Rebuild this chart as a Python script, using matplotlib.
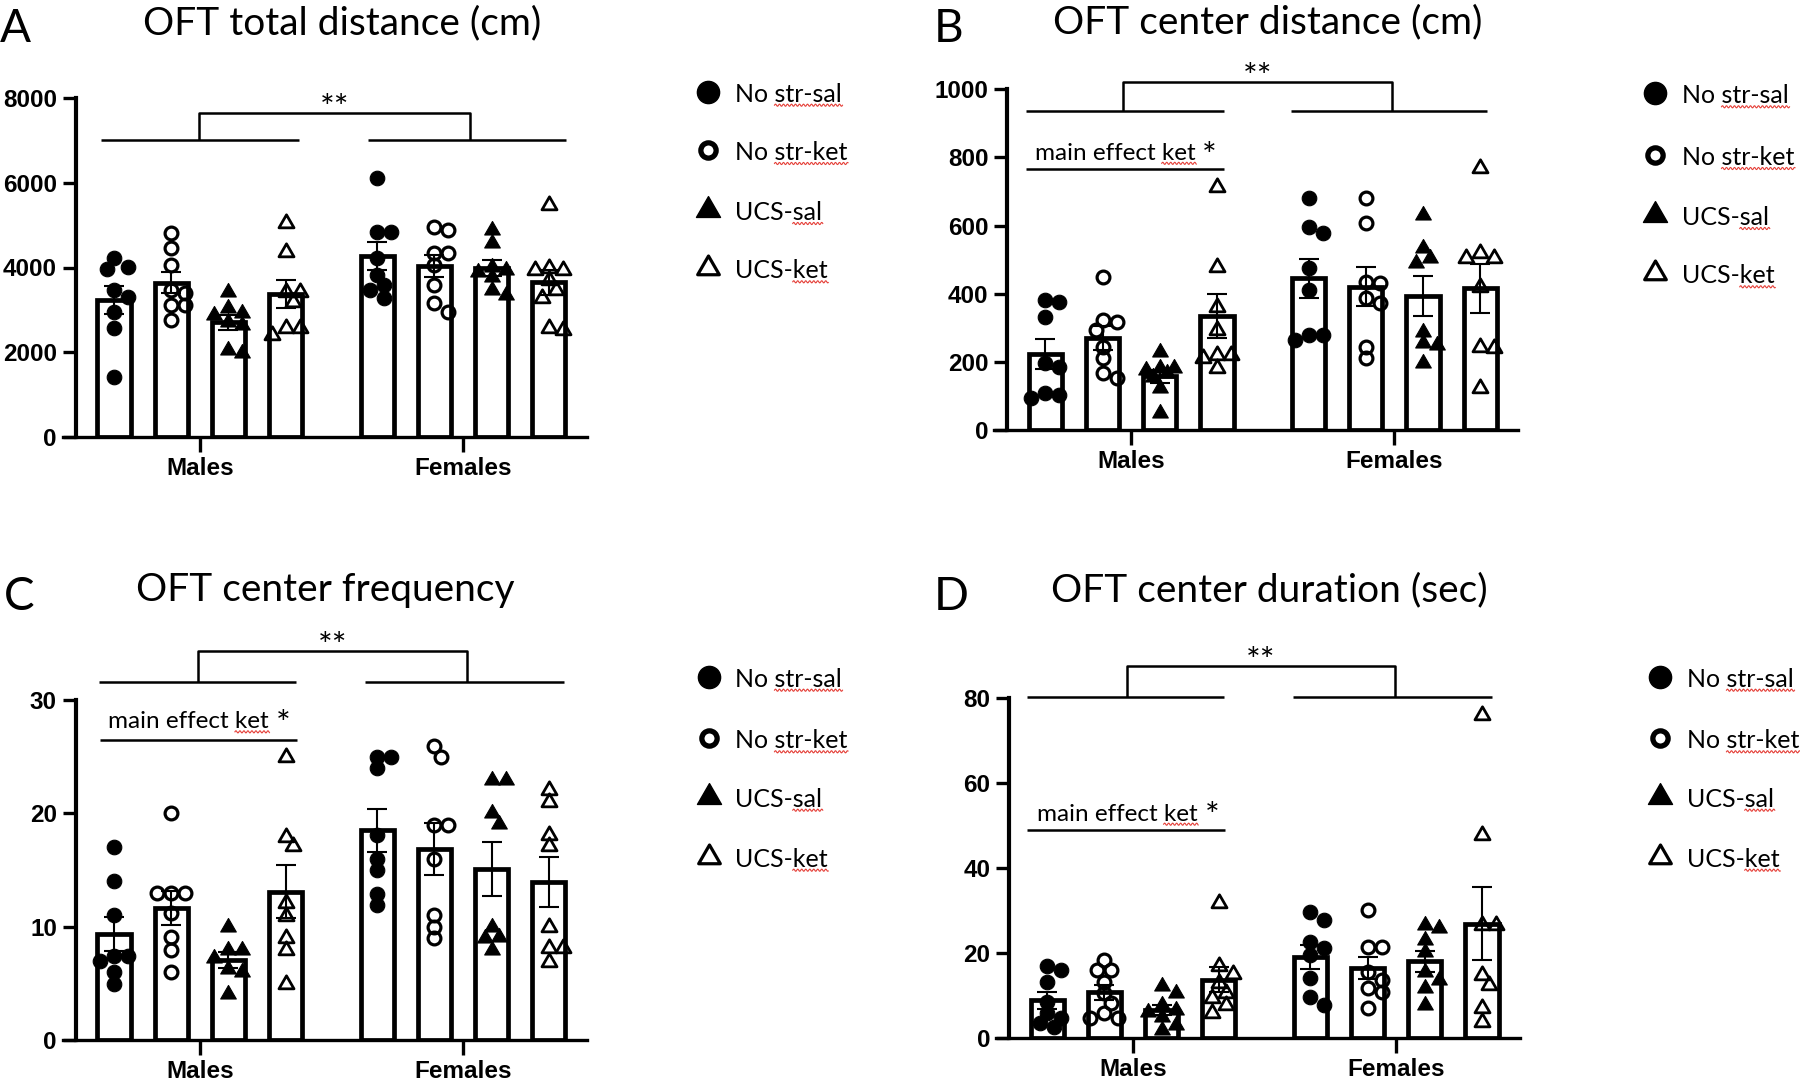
import numpy as np
import matplotlib
matplotlib.use("Agg")
import matplotlib.pyplot as plt
from matplotlib.path import Path
from matplotlib.lines import Line2D

W, H = 1800, 1082

group_labels = ["No str-sal", "No str-ket", "UCS-sal", "UCS-ket"]
sex_labels = ["Males", "Females"]

# individual animals, order: No str-sal, No str-ket, UCS-sal, UCS-ket
total_dist_m = [[4217, 3957, 4020, 3468, 3310, 2956, 2562, 1419],
                [4808, 4453, 4059, 3468, 3389, 3113, 3113, 2759],
                [3429, 2916, 2877, 3035, 2719, 2640, 2049, 1970],
                [5044, 4375, 3429, 3429, 3192, 2562, 2562, 2404]]
total_dist_f = [[6109, 4847, 4847, 4217, 3823, 3586, 3468, 3271],
                [4966, 4887, 4335, 4335, 4059, 3586, 3153, 2956],
                [4887, 4572, 4020, 3941, 3902, 3783, 3468, 3350],
                [5478, 3980, 3941, 3941, 3705, 3468, 3271, 2562, 2522]]

center_dist_m = [[333, 382, 377, 196, 186, 108, 103, 93],
                 [448, 318, 323, 294, 245, 210, 166, 152],
                 [230, 181, 181, 166, 157, 176, 122, 49],
                 [714, 479, 362, 294, 220, 220, 210, 181]]
center_dist_f = [[680, 577, 597, 475, 411, 279, 279, 264],
                 [680, 609, 435, 431, 386, 372, 245, 210],
                 [631, 489, 504, 533, 289, 250, 254, 196],
                 [768, 504, 504, 519, 421, 245, 240, 122]]

center_freq_m = [[17.0, 14.0, 11.0, 7.4, 7.4, 7.0, 6.0, 4.9],
                 [20.0, 13.0, 13.0, 13.0, 11.2, 9.1, 7.9, 6.0],
                 [10.0, 7.9, 7.9, 7.2, 6.3, 6.0, 4.1],
                 [25.0, 17.1, 17.9, 12.1, 10.9, 9.0, 7.9, 4.9]]
center_freq_f = [[24.0, 25.0, 25.0, 18.1, 16.0, 15.0, 12.9, 11.9],
                 [25.9, 25.0, 19.0, 19.0, 16.0, 11.0, 10.0, 9.0],
                 [22.9, 22.9, 20.0, 19.1, 10.0, 9.1, 9.0, 7.9],
                 [22.1, 21.0, 18.1, 17.1, 10.0, 8.1, 8.1, 6.9]]

center_dur_m = [[16.9, 16.1, 13.3, 8.6, 5.9, 4.7, 3.5, 2.7],
                [18.4, 16.1, 16.1, 13.3, 10.6, 8.2, 5.9, 4.7, 4.7],
                [12.2, 10.6, 7.8, 6.7, 6.3, 5.1, 3.1, 2.0],
                [31.8, 16.9, 15.2, 13.0, 10.6, 9.4, 7.8, 5.9]]
center_dur_f = [[29.8, 27.8, 22.7, 21.2, 19.6, 14.1, 9.8, 7.8],
                [30.2, 21.6, 21.6, 15.7, 13.7, 11.8, 11.0, 7.1],
                [26.7, 25.9, 23.1, 20.4, 15.7, 13.7, 11.8, 7.8],
                [76.1, 47.8, 26.7, 26.7, 14.9, 12.5, 7.1, 3.9]]

# ---- styling / layout ----
tri = Path([(0, 1.155), (-1, -0.577), (1, -0.577), (0, 1.155)],
           [Path.MOVETO, Path.LINETO, Path.LINETO, Path.CLOSEPOLY])

dot_style = [dict(marker="o", mfc="k", mec="k", ms=10.5, mew=0.8),
             dict(marker="o", mfc="none", mec="k", ms=9.2, mew=2.3),
             dict(marker=tri, mfc="k", mec="k", ms=13, mew=0.8),
             dict(marker=tri, mfc="none", mec="k", ms=12.5, mew=2.0)]
key_style = [dict(marker="o", mfc="k", mec="k", ms=16),
             dict(marker="o", mfc="none", mec="k", ms=11, mew=3.8),
             dict(marker=tri, mfc="k", mec="k", ms=20),
             dict(marker=tri, mfc="none", mec="k", ms=18, mew=2.3)]

TXT = "Lato"
TICK = "Liberation Sans"
PPU = 57.2                    # pixels per bar slot
XL, XR, YAX = -0.9, 8.27, -0.67
pos_m = np.arange(4)
pos_f = np.arange(4) + 4.6

fig = plt.figure(figsize=(W / 100, H / 100), dpi=100)
ov = fig.add_axes([0, 0, 1, 1])
ov.set_xlim(0, W)
ov.set_ylim(H, 0)
ov.axis("off")

squiggles = []


def swarm(ax, xc, vals, diam):
    # spread points sideways a little where they would overlap
    pts = ax.transData.transform(np.column_stack([np.full(len(vals), xc), vals]))
    placed = []
    xs = np.zeros(len(vals))
    step = diam * 0.5
    for i in np.argsort(-np.asarray(vals), kind="stable"):
        px, py = pts[i]
        best, best_d = px, -1
        for k in [0, 1, -1, 2, -2]:
            cx = px + k * step
            d = min([np.hypot(cx - qx, py - qy) for qx, qy in placed] or [1e9])
            if d >= diam * 0.8:
                best = cx
                break
            if d > best_d + 1:
                best, best_d = cx, d
        placed.append((best, py))
        xs[i] = best
    inv = ax.transData.inverted()
    return [inv.transform((x, 0))[0] for x in xs]


def draw_panel(males, females, x0, y0, ytop, ymax, ystep, ann, main=None):
    left = x0 + XL * PPU
    ax = fig.add_axes([left / W, 1 - y0 / H, (XR - XL) * PPU / W, (y0 - ytop) / H])
    ax.set_xlim(XL, XR)
    ax.set_ylim(0, ymax)
    ax.patch.set_alpha(0)
    for s in ("top", "right"):
        ax.spines[s].set_visible(False)
    ax.spines["left"].set_position(("data", YAX))
    ax.spines["left"].set_linewidth(3.0)
    ax.spines["bottom"].set_linewidth(2.4)
    ax.set_yticks(np.arange(0, ymax + ystep / 2, ystep))
    ax.set_xticks([1.5, 6.1], sex_labels)
    ax.tick_params(axis="y", length=9.5, width=2.4, pad=4, labelsize=17.5)
    ax.tick_params(axis="x", length=11, width=2.4, pad=3.5, labelsize=17.5)
    for lab in ax.get_xticklabels() + ax.get_yticklabels():
        lab.set_fontfamily(TICK)
        lab.set_fontweight("bold")

    for pos, grp in ((pos_m, males), (pos_f, females)):
        for p, vals, st in zip(pos, grp, dot_style):
            v = np.asarray(vals, float)
            mean = v.mean()
            sem = v.std(ddof=1) / np.sqrt(len(v))
            ax.bar(p, mean, width=0.58, color="white", edgecolor="k", lw=3.4, zorder=2)
            ax.errorbar(p, mean, yerr=sem, fmt="none", ecolor="k", elinewidth=1.5,
                        capsize=7, capthick=1.5, zorder=3)
            ax.plot(swarm(ax, p, v, 14), v, ls="none", zorder=4, clip_on=False, **st)

    ly, ty, (m0, m1), (f0, f1), (v0, v1) = ann
    kw = dict(color="k", lw=1.8, clip_on=False, solid_capstyle="butt")
    ax.plot([m0, m1], [ly, ly], **kw)
    ax.plot([f0, f1], [ly, ly], **kw)
    ax.plot([v0, v0, v1, v1], [ly, ty, ty, ly], **kw)
    ax.annotate("**", ((v0 + v1) / 2, ty), xytext=(0, -4), textcoords="offset points",
                ha="center", va="baseline", fontsize=25, family=TXT,
                annotation_clip=False)
    if main:
        my, tb, (s0, s1), tx, (sx, sy) = main
        ax.plot([s0, s1], [my, my], **kw)
        t = ax.text(tx, tb, "main effect ket", ha="center", va="baseline",
                    fontsize=17.5, family=TXT, clip_on=False)
        ax.annotate("*", (sx, sy), xytext=(0, -15.5), textcoords="offset points",
                    ha="center", va="baseline", fontsize=25, family=TXT,
                    annotation_clip=False)
        squiggles.append((t, "ket"))
    return ax


def legend(mx, tx, rows):
    for y, lab, st in zip(rows, group_labels, key_style):
        ov.plot([mx], [y], ls="none", **st)
        t = ov.text(tx, y + 10, lab, ha="left", va="baseline", fontsize=18, family=TXT)
        word = lab.split("-", 1)[1] if lab.startswith("UCS") else lab.split(" ")[-1]
        squiggles.append((t, word))


def heading(letter, lx, ly, title, cx, by):
    ov.text(lx, ly, letter, ha="left", va="baseline", fontsize=33, family=TXT)
    ov.text(cx, by, title, ha="center", va="baseline", fontsize=28, family=TXT)


# A
draw_panel(total_dist_m, total_dist_f, 114, 436.7, 98.3, 8000, 2000,
           (7009, 7646, (-0.22, 3.23), (4.44, 7.91), (1.49, 6.23)))
heading("A", 0, 41.5, "OFT total distance (cm)", 342.5, 34.5)
legend(708, 735, [91.7, 150, 210, 268.3])

# B
draw_panel(center_dist_m, center_dist_f, 1045.4, 430, 89.3, 1000, 200,
           (936, 1020, (-0.34, 3.12), (4.3, 7.72), (1.36, 6.06)),
           (766, 793, (-0.34, 3.12), 1.22, (2.87, 836)))
heading("B", 934, 41.5, "OFT center distance (cm)", 1267.4, 33.5)
legend(1655, 1682, [93.3, 155, 215, 273.3])

# C
draw_panel(center_freq_m, center_freq_f, 114, 1040, 700, 30, 10,
           (31.6, 34.3, (-0.26, 3.19), (4.39, 7.87), (1.46, 6.18)),
           (26.5, 27.5, (-0.25, 3.2), 1.3, (2.96, 28.8)))
heading("C", 4, 610, "OFT center frequency", 325.3, 601.5)
legend(709, 735, [676.7, 738.3, 796.7, 856.7])

# D
draw_panel(center_dur_m, center_dur_f, 1047.3, 1038.3, 698.3, 80, 20,
           (80.4, 87.5, (-0.36, 3.09), (4.3, 7.77), (1.39, 6.08)),
           (49.1, 51.2, (-0.36, 3.11), 1.22, (2.88, 54.9)))
heading("D", 934, 610, "OFT center duration (sec)", 1269.3, 601.5)
legend(1660, 1687, [676.7, 738.3, 796.7, 856.7])

# red spell-check squiggles under the flagged words
fig.canvas.draw()
renderer = fig.canvas.get_renderer()
for t, word in squiggles:
    bb = t.get_window_extent(renderer)
    w, _, _ = renderer.get_text_width_height_descent(word, t.get_fontproperties(), ismath=False)
    base = t.get_transform().transform(t.get_position())[1]
    xs = np.arange(bb.x1 - w, bb.x1 + 1, 0.5)
    ys = base - 3.5 + 1.1 * np.sin((xs - xs[0]) * 2 * np.pi / 4.0)
    fig.add_artist(Line2D(xs / W, ys / H, transform=fig.transFigure,
                          color="#e5413a", lw=0.8))

fig.savefig("out.png", dpi=100)
